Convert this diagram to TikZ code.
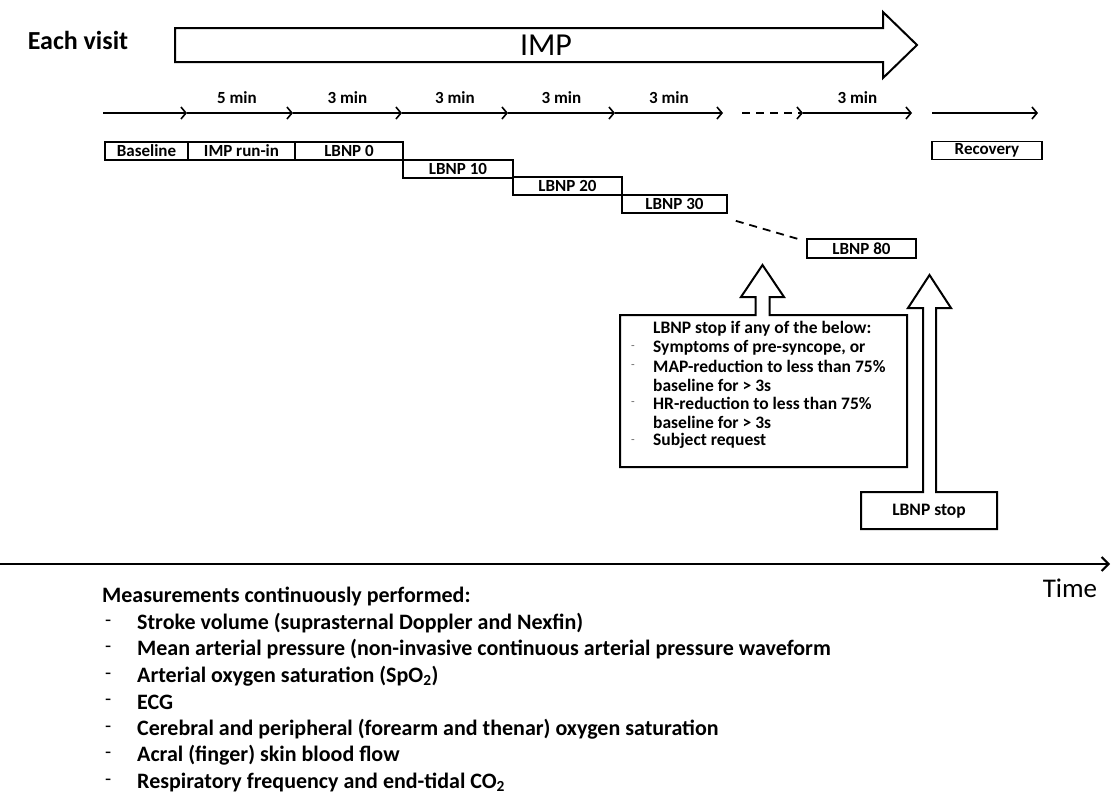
\documentclass[tikz,border=0pt]{standalone}
\usepackage{fontspec}
\setmainfont{Carlito}
\usetikzlibrary{arrows.meta}

\tikzset{
  stepbox/.style={draw, line width=1.7pt, minimum height=18pt, inner sep=0pt, font=\bfseries\fontsize{17}{17}\selectfont},
  timearrow/.style={line width=1.4pt, -{Straight Barb[length=5pt,width=12pt,line width=1.6pt]}},
  minlabel/.style={font=\bfseries\fontsize{17}{17}\selectfont, anchor=base, yshift=10pt},
  outline/.style={draw, line width=2pt, fill=white, line join=miter},
  gapdash/.style={line width=1.8pt, dash pattern=on 8pt off 6pt}
}

\begin{document}
\begin{tikzpicture}[x=1pt, y=-1pt]
    \useasboundingbox (0,0) rectangle (1112,796);

    % Header and IMP arrow
    \node[font=\bfseries\fontsize{26}{26}\selectfont] (visit) at (78,40) {Each visit};
    \draw[outline] (175,28) -- (883,28) -- (883,12) -- (917,45) -- (883,78) -- (883,62) -- (175,62) -- cycle;
    \node[font=\fontsize{32}{32}\selectfont] (imp) at (546,45) {IMP};

    % Timeline with durations
    \foreach \x [count=\i from 0] in {103,187,293,402,508,615,723,742,803,912,932,1038}
        \coordinate (t\i) at (\x,113);
    \foreach \a/\b in {0/1,1/2,2/3,3/4,4/5,5/6,8/9,10/11}
        \draw[timearrow] (t\a) -- (t\b);
    \draw[timearrow, dash pattern=on 8pt off 6pt] (t7) -- (t8);
    \path (t1) -- (t2) node[minlabel, midway, xshift=-3pt] (d1) {5 min};
    \foreach \a/\b in {2/3,3/4,4/5,5/6,8/9}
        \path (t\a) -- (t\b) node[minlabel, midway] (d\a) {3 min};

    % Protocol steps
    \node[stepbox, line width=2.6pt, minimum width=83pt] (base) at (146.5,151) {Baseline};
    \node[stepbox, minimum width=107pt] (runin) at (241.5,151) {IMP run-in};
    \node[stepbox, minimum width=108pt] (l0) at (349,151) {LBNP 0};
    \node[stepbox, minimum width=110pt] (l10) at (458,169) {LBNP 10};
    \node[stepbox, minimum width=109pt] (l20) at (567.5,186) {LBNP 20};
    \node[stepbox, minimum width=105pt] (l30) at (674.5,204) {LBNP 30};
    \node[stepbox, minimum width=109pt, minimum height=19pt] (l80) at (861.5,248.5) {LBNP 80};
    \node[stepbox, minimum width=110pt] (rec) at (987,150.5) {Recovery};
    \draw[gapdash] ([xshift=8pt,yshift=-7pt]l30.south east) -- ([xshift=-4pt,yshift=-2pt]l80.north west);

    % Stop criteria callout
    \draw[outline] (620,315) -- (755.5,315) -- (755.5,297) -- (741,297) -- (762.5,265) -- (784,297)
        -- (769.5,297) -- (769.5,315) -- (907,315) -- (907,467) -- (620,467) -- cycle;
    \foreach \txt [count=\i from 0] in {LBNP stop if any of the below:, {Symptoms of pre-syncope, or},
        MAP-reduction to less than 75\%, baseline for > 3s, HR-reduction to less than 75\%,
        baseline for > 3s, Subject request}
        \node[font=\bfseries\fontsize{17.5}{17.5}\selectfont, anchor=west, inner sep=0pt] (c\i) at (653,329+18.7*\i) {\txt};
    \foreach \i in {1,2,4,6}
        \node[font=\fontsize{12}{12}\selectfont, text=black!60, inner sep=0pt] (cd\i) at (633,329+18.7*\i) {-};

    % LBNP stop arrow
    \draw[outline] (861,492) -- (923,492) -- (923,308) -- (908,308) -- (929.5,275) -- (951,308)
        -- (936,308) -- (936,492) -- (997,492) -- (997,529) -- (861,529) -- cycle;
    \node[font=\bfseries\fontsize{17.5}{17.5}\selectfont] (stop) at (929,511) {LBNP stop};

    % Time axis
    \coordinate (ax0) at (0,564);
    \coordinate (ax1) at (1110,564);
    \draw[line width=2pt, -{Straight Barb[length=7pt,width=14pt,line width=2pt]}] (ax0) -- (ax1);
    \node[font=\fontsize{27}{27}\selectfont] (time) at (1070,588) {Time};

    % Measurements
    \node[font=\bfseries\fontsize{22}{22}\selectfont, anchor=west, inner sep=0pt] (meas) at (102,596) {Measurements continuously performed:};
    \foreach \txt [count=\i from 0] in {Stroke volume (suprasternal Doppler and Nexfin),
        Mean arterial pressure (non-invasive continuous arterial pressure waveform,
        Arterial oxygen saturation (SpO\textsubscript{2}), ECG,
        Cerebral and peripheral (forearm and thenar) oxygen saturation,
        Acral (finger) skin blood flow, Respiratory frequency and end-tidal CO\textsubscript{2}}
    {
        \node[font=\fontsize{20}{20}\selectfont, anchor=west, inner sep=0pt] (md\i) at (105,623+26.5*\i) {-};
        \node[font=\bfseries\fontsize{22}{22}\selectfont, anchor=west, inner sep=0pt] (m\i) at (137,623+26.5*\i) {\txt};
    }
\end{tikzpicture}
\end{document}
